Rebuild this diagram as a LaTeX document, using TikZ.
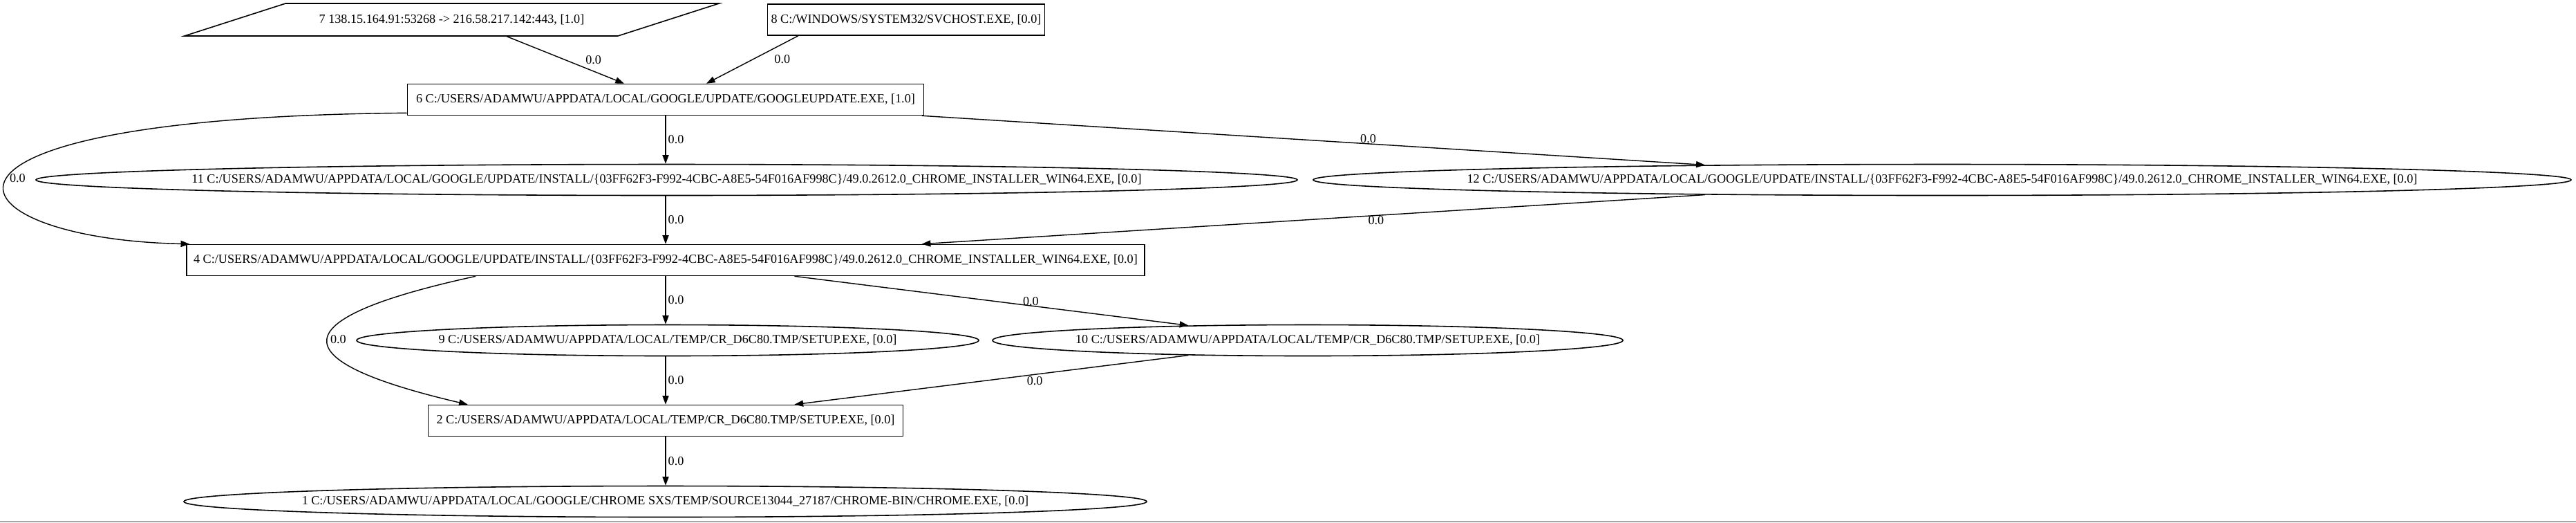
\documentclass[tikz,border=0pt]{standalone}
\usepackage{fontspec}
\setmainfont{Liberation Serif}
\usetikzlibrary{arrows.meta,calc,positioning,shapes.geometric}
\tikzset{
	txt/.style={font=\fontsize{5.17}{6}\selectfont},
	proc/.style={txt, draw, rectangle, line width=0.45pt, minimum height=0.45cm, minimum width=#1, inner xsep=0.05cm, inner ysep=0cm},
	file/.style={txt, draw, ellipse, line width=0.45pt, minimum height=0.45cm, minimum width=#1, inner sep=0pt,
		execute at begin node={\hbox to 0pt\bgroup\hss}, execute at end node={\hss\egroup}},
	conn/.style={txt, draw, trapezium, trapezium left angle=17.4, trapezium right angle=162.6, trapezium stretches=true, minimum width=7.75cm, minimum height=0.47cm, line width=0.45pt},
	flow/.style={line width=0.4pt, -{Triangle[length=3.6pt,width=2.6pt]}},
	elbl/.style={txt, inner sep=0pt}
}

\begin{document}
\begin{tikzpicture}
				\useasboundingbox (0,0) rectangle (37.27,-7.55);
				
				\node[conn] (n7) at (6.535,-0.285) {7 138.15.164.91:53268 -> 216.58.217.142:443, [1.0]};
				\node[proc=3.50cm] (n8) at (13.11,-0.285) {8 C:/WINDOWS/SYSTEM32/SVCHOST.EXE, [0.0]};
				
				\node[proc=7.47cm] (n6) at (9.63,-1.44) {6 C:/USERS/ADAMWU/APPDATA/LOCAL/GOOGLE/UPDATE/GOOGLEUPDATE.EXE, [1.0]};
				
				\node[file=18.25cm] (n11) at (9.645,-2.60) {11 C:/USERS/ADAMWU/APPDATA/LOCAL/GOOGLE/UPDATE/INSTALL/\{03FF62F3-F992-4CBC-A8E5-54F016AF998C\}/49.0.2612.0\_CHROME\_INSTALLER\_WIN64.EXE, [0.0]};
				\node[file=18.20cm] (n12) at (28.10,-2.60) {12 C:/USERS/ADAMWU/APPDATA/LOCAL/GOOGLE/UPDATE/INSTALL/\{03FF62F3-F992-4CBC-A8E5-54F016AF998C\}/49.0.2612.0\_CHROME\_INSTALLER\_WIN64.EXE, [0.0]};
				
				\node[proc=13.86cm] (n4) at (9.63,-3.76) {4 C:/USERS/ADAMWU/APPDATA/LOCAL/GOOGLE/UPDATE/INSTALL/\{03FF62F3-F992-4CBC-A8E5-54F016AF998C\}/49.0.2612.0\_CHROME\_INSTALLER\_WIN64.EXE, [0.0]};
				
				\node[file=9.00cm] (n9) at (9.66,-4.92) {9 C:/USERS/ADAMWU/APPDATA/LOCAL/TEMP/CR\_D6C80.TMP/SETUP.EXE, [0.0]};
				\node[file=9.12cm] (n10) at (18.92,-4.92) {10 C:/USERS/ADAMWU/APPDATA/LOCAL/TEMP/CR\_D6C80.TMP/SETUP.EXE, [0.0]};
				
				\node[proc=6.87cm] (n2) at (9.63,-6.08) {2 C:/USERS/ADAMWU/APPDATA/LOCAL/TEMP/CR\_D6C80.TMP/SETUP.EXE, [0.0]};
				\node[file=13.93cm] (n1) at (9.625,-7.25) {1 C:/USERS/ADAMWU/APPDATA/LOCAL/GOOGLE/CHROME SXS/TEMP/SOURCE13044\_27187/CHROME-BIN/CHROME.EXE, [0.0]};
				
				\draw[flow] ($(n7.south)+(0.80,0)$) -- node[elbl, pos=0.49, right=0.3cm] (l76) {0.0} ($(n6.north)+(-0.60,0)$);
				\draw[flow] ($(n8.south west)+(0.45,0)$) -- node[elbl, pos=0.49, right=0.3cm] (l86) {0.0} ($(n6.north)+(0.59,0)$);
				
				\draw[flow] (n6) -- node[elbl, right=0.03cm] (l611) {0.0} (n6 |- n11.north);
				\draw[flow] (n6) -- node[elbl, pos=0.57, above] (l612) {0.0} (n12);
				\draw[flow] ($(n6.south west)+(0,0.04)$) .. controls (-1.80,-1.70) and (-0.80,-3.45) .. node[elbl, right=0.03cm] (l64) {0.0} ($(n4.north west)+(0.05,0)$);
				
				\draw[flow] (n4 |- n11.south) -- node[elbl, right=0.03cm] (l114) {0.0} (n4);
				\draw[flow] (n12) -- node[elbl, pos=0.42, below] (l124) {0.0} (n4);
				
				\draw[flow] (n4) -- node[elbl, right=0.03cm] (l49) {0.0} (n4 |- n9.north);
				\draw[flow] (n4) -- node[elbl, pos=0.6, above] (l410) {0.0} (n10);
				\draw[flow] ($(n4.south west)+(4.19,0)$) .. controls (4.10,-4.60) and (4.00,-5.20) .. node[elbl, right=0.03cm] (l42) {0.0} ($(n2.north west)+(0.58,0)$);
				
				\draw[flow] (n2 |- n9.south) -- node[elbl, right=0.03cm] (l92) {0.0} (n2);
				\draw[flow] (n10) -- node[elbl, pos=0.39, below=0.02cm] (l102) {0.0} (n2);
				
				\draw[flow] (n2) -- node[elbl, right=0.03cm] (l21) {0.0} (n2 |- n1.north);
				
				\draw[black!35, line width=0.3pt] (0,-7.54) -- (37.27,-7.54);
\end{tikzpicture}
\end{document}
